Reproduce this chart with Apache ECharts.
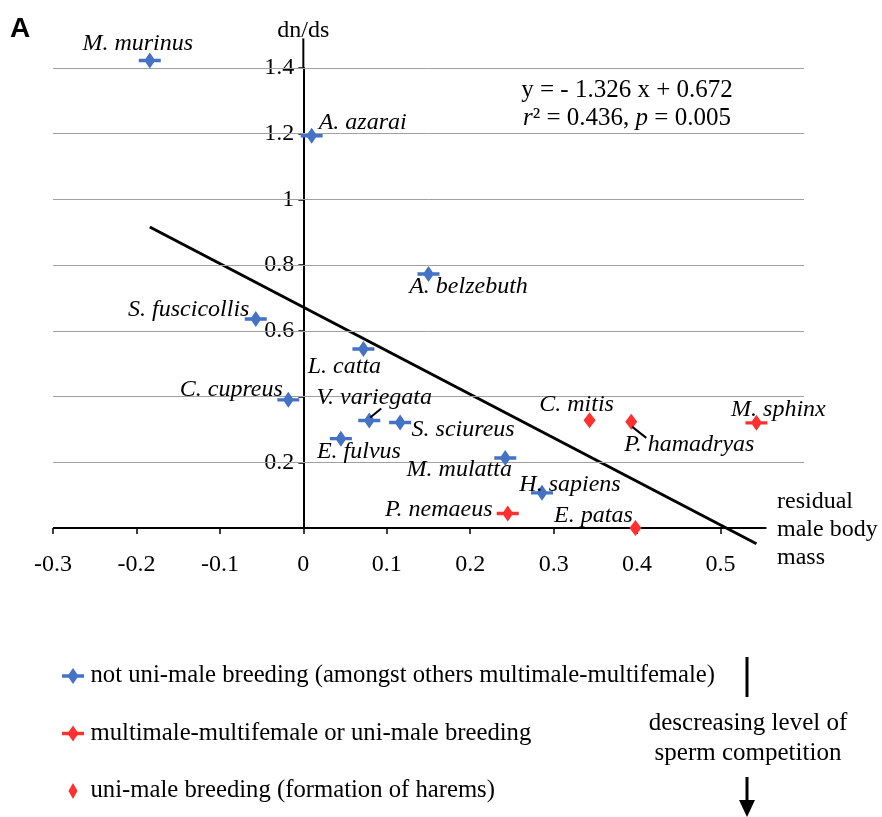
<!DOCTYPE html>
<html><head><meta charset="utf-8">
<script src="https://cdn.jsdelivr.net/npm/echarts@6/dist/echarts.min.js"></script>
<style>html,body{margin:0;padding:0;background:#fff}#c{width:882px;height:817px}</style>
</head><body><div id="c"></div>
<script>
// ---------- data ----------
const SERIES_NAMES = [
  'not uni-male breeding (amongst others multimale-multifemale)',
  'multimale-multifemale or uni-male breeding',
  'uni-male breeding (formation of harems)'
];
const BLUE_NAMES = ['M. murinus','A. azarai','A. belzebuth','S. fuscicollis','L. catta','C. cupreus','V. variegata','S. sciureus','E. fulvus','M. mulatta','H. sapiens'];
const BLUE_X = [-0.184, 0.010, 0.150, -0.057, 0.072, -0.018, 0.079, 0.116, 0.045, 0.242, 0.286];
const BLUE_Y = [1.423, 1.194, 0.773, 0.636, 0.545, 0.390, 0.327, 0.321, 0.272, 0.213, 0.107];
const RED_BAR_NAMES = ['P. nemaeus','M. sphinx'];
const RED_BAR_X = [0.245, 0.543];
const RED_BAR_Y = [0.044, 0.320];
const RED_DIA_NAMES = ['E. patas','C. mitis','P. hamadryas'];
const RED_DIA_X = [0.398, 0.343, 0.393];
const RED_DIA_Y = [0.000, 0.328, 0.323];
const SLOPE = -1.326, INTERCEPT = 0.672;
const X_TICKS = [-0.3, -0.2, -0.1, 0, 0.1, 0.2, 0.3, 0.4, 0.5];
const Y_LABELS = [0.2, 0.6, 0.8, 1, 1.2, 1.4];
const Y_GRID = [0.2, 0.4, 0.6, 0.8, 1, 1.2, 1.4];
const X_NAME = 'residual\nmale body\nmass';

// ---------- layout / style ----------
const SERIF = '"Liberation Serif", "Times New Roman", serif';
const BLUE = '#4472C4', RED = '#FF3030';
const BAR_DIAMOND = 'path://M0,6.3L22,6.3L22,9.7L0,9.7Z M11,0L16.5,8L11,16L5.5,8Z';
const DIAMOND = 'path://M6,0L12,8L6,16L0,8Z';
const LEGEND_DIAMOND = 'path://M4.5,0L9,8L4.5,16L0,8Z';
const X_MIN = -0.3, X_MAX = 0.6, X_AXIS_END = 0.555, Y_AXIS_TOP = 1.49;
const GRID = { left: 53, top: 68, width: 751, height: 460 };
const Y_AXIS_OFFSET = -GRID.width * (0 - X_MIN) / (X_MAX - X_MIN);
const LABEL_OFFSET = {
  'M. murinus':[-12,-17], 'A. azarai':[51,-13], 'A. belzebuth':[40,13], 'S. fuscicollis':[-67,-9],
  'L. catta':[-19,18], 'C. cupreus':[-57,-10], 'V. variegata':[5,-23], 'S. sciureus':[63,7],
  'E. fulvus':[18,13], 'M. mulatta':[-46,12], 'H. sapiens':[28,-8], 'P. nemaeus':[-69,-4],
  'E. patas':[-42,-12], 'C. mitis':[-13,-16], 'P. hamadryas':[58,23], 'M. sphinx':[22,-13]
};
const LEADERS = { 'V. variegata': [[1,-3],[12,-12]], 'P. hamadryas': [[1,5],[15,16]] };

function pts(names, xs, ys) {
  return names.map((n, i) => ({ name: n, value: [xs[i], ys[i]], label: { offset: LABEL_OFFSET[n] } }));
}
const allX = BLUE_X.concat(RED_BAR_X, RED_DIA_X);
const xLo = Math.min(...allX), xHi = Math.max(...allX);
const regLine = [[xLo, SLOPE * xLo + INTERCEPT], [xHi, SLOPE * xHi + INTERCEPT]];

const scatterBase = {
  type: 'scatter', symbolKeepAspect: false, clip: false, z: 5,
  emphasis: { disabled: true },
  label: { show: true, position: 'inside', formatter: '{b}', color: '#000',
           fontFamily: SERIF, fontStyle: 'italic', fontSize: 24 }
};

const chart = echarts.init(document.getElementById('c'));
chart.setOption({
  animation: false,
  backgroundColor: '#fff',
  grid: Object.assign({ containLabel: false, outerBoundsMode: 'none' }, GRID),
  xAxis: {
    type: 'value', min: X_MIN, max: X_MAX, interval: 0.1,
    axisLine: { show: false },
    splitLine: { show: false },
    axisTick: { show: true, customValues: X_TICKS, length: 6, lineStyle: { color: '#000', width: 1.5 } },
    axisLabel: { customValues: X_TICKS, color: '#000', fontFamily: SERIF, fontSize: 24, margin: 25 }
  },
  yAxis: {
    type: 'value', min: 0, max: 1.4, interval: 0.2, position: 'left', offset: Y_AXIS_OFFSET,
    axisLine: { show: true, onZero: false, lineStyle: { color: '#000', width: 2 } },
    splitLine: { show: false },
    axisTick: { show: true, length: 5, lineStyle: { color: '#000', width: 1.5 } },
    axisLabel: { customValues: Y_LABELS, color: '#000', fontFamily: SERIF, fontSize: 24, margin: 9 },
    name: 'dn/ds', nameLocation: 'end', nameGap: 25, nameMoveOverlap: false,
    nameTextStyle: { color: '#000', fontFamily: SERIF, fontSize: 24 }
  },
  legend: {
    orient: 'vertical', left: 57, top: 657, itemWidth: 25, itemHeight: 16, itemGap: 29.5,
    selectedMode: false, symbolKeepAspect: true,
    textStyle: { color: '#000', fontFamily: SERIF, fontSize: 24.7, lineHeight: 28 },
    data: [
      { name: SERIES_NAMES[0], icon: BAR_DIAMOND },
      { name: SERIES_NAMES[1], icon: BAR_DIAMOND },
      { name: SERIES_NAMES[2], icon: LEGEND_DIAMOND }
    ]
  },
  series: [
    { type: 'line', name: 'grid', data: [], silent: true,
      markLine: { silent: true, symbol: ['none','none'], label: { show: false },
        lineStyle: { color: '#a0a0a0', type: 'solid', width: 1 },
        emphasis: { disabled: true },
        data: Y_GRID.map(v => ({ yAxis: v })) } },
    { type: 'line', name: 'xaxisline', data: [[X_MIN, 0], [X_AXIS_END, 0]], symbol: 'none', clip: false,
      silent: true, z: 3, lineStyle: { color: '#000', width: 2 } },
    { type: 'line', name: 'yaxisext', data: [[0, 1.4], [0, Y_AXIS_TOP]], symbol: 'none', clip: false,
      silent: true, z: 3, lineStyle: { color: '#000', width: 2 } },
    { type: 'line', name: 'regression', data: regLine, symbol: 'none', clip: false,
      silent: true, z: 4, lineStyle: { color: '#000', width: 3 } },
    Object.assign({}, scatterBase, { name: SERIES_NAMES[0], symbol: BAR_DIAMOND, symbolSize: [22, 16],
      itemStyle: { color: BLUE, opacity: 1 }, data: pts(BLUE_NAMES, BLUE_X, BLUE_Y) }),
    Object.assign({}, scatterBase, { name: SERIES_NAMES[1], symbol: BAR_DIAMOND, symbolSize: [22, 16],
      itemStyle: { color: RED, opacity: 1 }, data: pts(RED_BAR_NAMES, RED_BAR_X, RED_BAR_Y) }),
    Object.assign({}, scatterBase, { name: SERIES_NAMES[2], symbol: DIAMOND, symbolSize: [12, 16],
      itemStyle: { color: RED, opacity: 1 }, data: pts(RED_DIA_NAMES, RED_DIA_X, RED_DIA_Y) })
  ]
});

// annotations
const lookup = {};
[[BLUE_NAMES, BLUE_X, BLUE_Y], [RED_BAR_NAMES, RED_BAR_X, RED_BAR_Y], [RED_DIA_NAMES, RED_DIA_X, RED_DIA_Y]]
  .forEach(([n, xs, ys]) => n.forEach((nm, i) => lookup[nm] = [xs[i], ys[i]]));
const leaderEls = Object.keys(LEADERS).map(nm => {
  const p = chart.convertToPixel({ gridIndex: 0 }, lookup[nm]);
  const [a, b] = LEADERS[nm];
  return { type: 'line', silent: true, z: 10,
    shape: { x1: p[0] + a[0], y1: p[1] + a[1], x2: p[0] + b[0], y2: p[1] + b[1] },
    style: { stroke: '#000', lineWidth: 2 } };
});
const axisEnd = chart.convertToPixel({ gridIndex: 0 }, [X_MAX, 0]);
chart.setOption({
  graphic: leaderEls.concat([
    { type: 'text', x: axisEnd[0] - 27, y: axisEnd[1] + 2, silent: true,
      style: { text: X_NAME, font: '24px ' + SERIF, lineHeight: 28, fill: '#000', align: 'left', verticalAlign: 'middle' } },
    { type: 'text', left: 10, top: 15, silent: true,
      style: { text: 'A', font: 'bold 28px "Liberation Sans", Arial, sans-serif', fill: '#000' } },
    { type: 'text', x: 627, y: 90, silent: true,
      style: { text: 'y = - 1.326 x + 0.672', font: '25px ' + SERIF, fill: '#000', align: 'center', verticalAlign: 'middle' } },
    { type: 'text', x: 627, y: 118, silent: true,
      style: { text: '{i|r}² = 0.436, {i|p} = 0.005', font: '25px ' + SERIF, fill: '#000', align: 'center', verticalAlign: 'middle',
        rich: { i: { fontStyle: 'italic', fontFamily: SERIF, fontSize: 25, fill: '#000' } } } },
    { type: 'text', x: 748, y: 738, silent: true,
      style: { text: 'descreasing level of\nsperm competition', font: '25px ' + SERIF, lineHeight: 30, fill: '#000',
        align: 'center', verticalAlign: 'middle' } },
    { type: 'line', silent: true, shape: { x1: 747, y1: 657, x2: 747, y2: 697 }, style: { stroke: '#000', lineWidth: 3 } },
    { type: 'line', silent: true, shape: { x1: 747, y1: 777, x2: 747, y2: 803 }, style: { stroke: '#000', lineWidth: 3 } },
    { type: 'polygon', silent: true, shape: { points: [[739, 800], [755, 800], [747, 817]] }, style: { fill: '#000' } }
  ])
});
</script></body></html>
